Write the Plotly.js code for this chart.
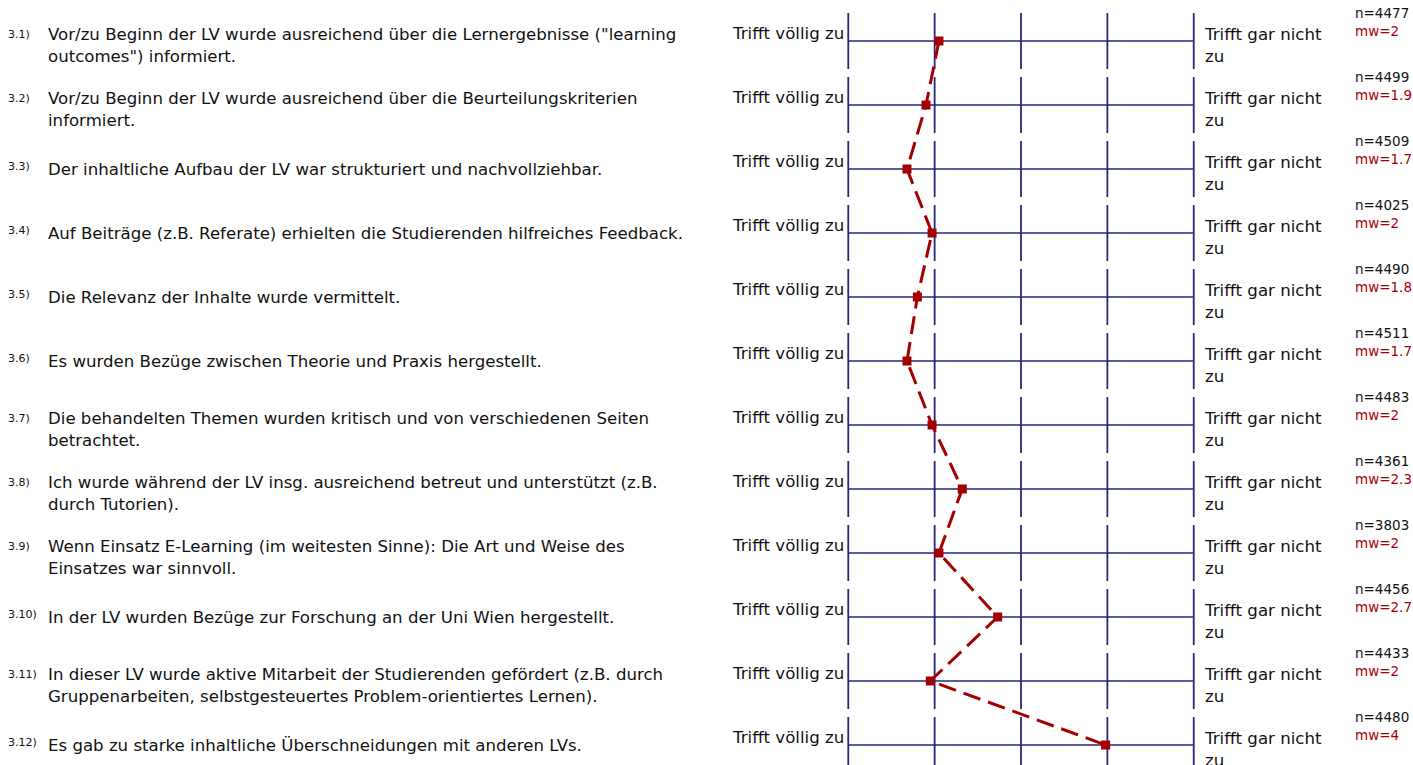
<!DOCTYPE html>
<html>
<head>
<meta charset="utf-8">
<script src="https://cdn.plot.ly/plotly-3.0.1.min.js"></script>
<style>
  html, body { margin: 0; padding: 0; background: #ffffff; }
  #chart { width: 1413px; height: 765px; }
</style>
</head>
<body>
<div id="chart"></div>
<script>
// ---------------- data ----------------
const questionNumbers = ['3.1)', '3.2)', '3.3)', '3.4)', '3.5)', '3.6)', '3.7)', '3.8)', '3.9)', '3.10)', '3.11)', '3.12)'];

const questionLines = [
  ['Vor/zu Beginn der LV wurde ausreichend über die Lernergebnisse ("learning', 'outcomes") informiert.'],
  ['Vor/zu Beginn der LV wurde ausreichend über die Beurteilungskriterien', 'informiert.'],
  ['Der inhaltliche Aufbau der LV war strukturiert und nachvollziehbar.'],
  ['Auf Beiträge (z.B. Referate) erhielten die Studierenden hilfreiches Feedback.'],
  ['Die Relevanz der Inhalte wurde vermittelt.'],
  ['Es wurden Bezüge zwischen Theorie und Praxis hergestellt.'],
  ['Die behandelten Themen wurden kritisch und von verschiedenen Seiten', 'betrachtet.'],
  ['Ich wurde während der LV insg. ausreichend betreut und unterstützt (z.B.', 'durch Tutorien).'],
  ['Wenn Einsatz E-Learning (im weitesten Sinne): Die Art und Weise des', 'Einsatzes war sinnvoll.'],
  ['In der LV wurden Bezüge zur Forschung an der Uni Wien hergestellt.'],
  ['In dieser LV wurde aktive Mitarbeit der Studierenden gefördert (z.B. durch', 'Gruppenarbeiten, selbstgesteuertes Problem-orientiertes Lernen).'],
  ['Es gab zu starke inhaltliche Überschneidungen mit anderen LVs.']
];

const leftPole = 'Trifft völlig zu';
const rightPoleLines = ['Trifft gar nicht', 'zu'];

const nValues = [4477, 4499, 4509, 4025, 4490, 4511, 4483, 4361, 3803, 4456, 4433, 4480];
const mwLabels = ['2', '1.9', '1.7', '2', '1.8', '1.7', '2', '2.3', '2', '2.7', '2', '4'];
// mean positions as drawn on the 1..5 scale
const meanValues = [2.05, 1.90, 1.68, 1.97, 1.80, 1.68, 1.97, 2.32, 2.05, 2.73, 1.95, 3.98];

const scaleTicks = [1, 2, 3, 4, 5];

// ---------------- layout geometry ----------------
const W = 1413, H = 765;
const mL = 831, mR = 202;
const plotW = W - mL - mR;
const xRange = [0.8, 5.2];
const rowPx = 64;                 // pixel distance between rows
const firstRowPx = 41;            // pixel y of first row line
const yTop = 1 - firstRowPx / rowPx;
const yBottom = yTop + H / rowPx;
const segHalf = 28 / rowPx;       // half height of vertical tick segments

const rows = questionLines.map((_, i) => i + 1);

const lineBlue = '#262680';
const red = '#a50000';
const fontFam = 'DejaVu Sans, Liberation Sans, Arial, sans-serif';

function paperX(px) { return (px - mL) / plotW; }
function rowY(r, offPx) { return r + offPx / rowPx; }

// ---------------- traces ----------------
const traces = [];

// horizontal scale lines
{
  const xs = [], ys = [];
  rows.forEach(r => {
    xs.push(scaleTicks[0], scaleTicks[scaleTicks.length - 1], null);
    ys.push(r, r, null);
  });
  traces.push({
    x: xs, y: ys, type: 'scatter', mode: 'lines',
    line: { color: lineBlue, width: 1.6 },
    hoverinfo: 'skip'
  });
}

// vertical tick segments
scaleTicks.forEach(t => {
  const xs = [], ys = [];
  rows.forEach(r => {
    xs.push(t, t, null);
    ys.push(r - segHalf, r + segHalf, null);
  });
  traces.push({
    x: xs, y: ys, type: 'scatter', mode: 'lines',
    line: { color: lineBlue, width: 1.8 },
    hoverinfo: 'skip'
  });
});

// profile line
traces.push({
  x: meanValues, y: rows, type: 'scatter', mode: 'lines+markers',
  line: { color: red, width: 3, dash: '18px,8px' },
  marker: { symbol: 'square', size: 9, color: red },
  hoverinfo: 'skip', cliponaxis: false
});

// ---------------- annotations ----------------
const annotations = [];
const bigSize = 16.6;
const bigFont = { family: fontFam, size: bigSize, color: '#111111' };

rows.forEach((r, i) => {
  const lines = questionLines[i];
  const two = lines.length > 1;
  // question number (superscript-like)
  annotations.push({
    xref: 'paper', yref: 'y', x: paperX(6), y: rowY(r, two ? -7 : -3),
    xanchor: 'left', yanchor: 'middle', showarrow: false,
    text: questionNumbers[i],
    font: { family: fontFam, size: 11, color: '#111111' }
  });
  // question text (one block)
  annotations.push({
    xref: 'paper', yref: 'y', x: paperX(46), y: rowY(r, two ? 4.5 : 0),
    xanchor: 'left', yanchor: 'middle', align: 'left', showarrow: false,
    text: lines.join('<br>'), font: bigFont
  });
  // left pole
  annotations.push({
    xref: 'paper', yref: 'y', x: paperX(846), y: rowY(r, -8),
    xanchor: 'right', yanchor: 'middle', showarrow: false,
    text: leftPole, font: bigFont
  });
  // right pole
  annotations.push({
    xref: 'paper', yref: 'y', x: paperX(1202), y: rowY(r, 4),
    xanchor: 'left', yanchor: 'middle', align: 'left', showarrow: false,
    text: rightPoleLines.join('<br>'), font: bigFont
  });
  // n and mean
  annotations.push({
    xref: 'paper', yref: 'y', x: paperX(1353), y: rowY(r, -19),
    xanchor: 'left', yanchor: 'middle', align: 'left', showarrow: false,
    text: 'n=' + nValues[i] + '<br><span style="color:' + red + '">mw=' + mwLabels[i] + '</span>',
    font: { family: fontFam, size: 13.5, color: '#111111' }
  });
});

const layout = {
  width: W, height: H,
  margin: { l: mL, r: mR, t: 0, b: 0, pad: 0 },
  paper_bgcolor: '#ffffff', plot_bgcolor: '#ffffff',
  showlegend: false, hovermode: false,
  xaxis: { range: xRange, visible: false, fixedrange: true },
  yaxis: { range: [yBottom, yTop], visible: false, fixedrange: true },
  annotations: annotations
};

Plotly.newPlot('chart', traces, layout, { displayModeBar: false, staticPlot: true });
</script>
</body>
</html>
